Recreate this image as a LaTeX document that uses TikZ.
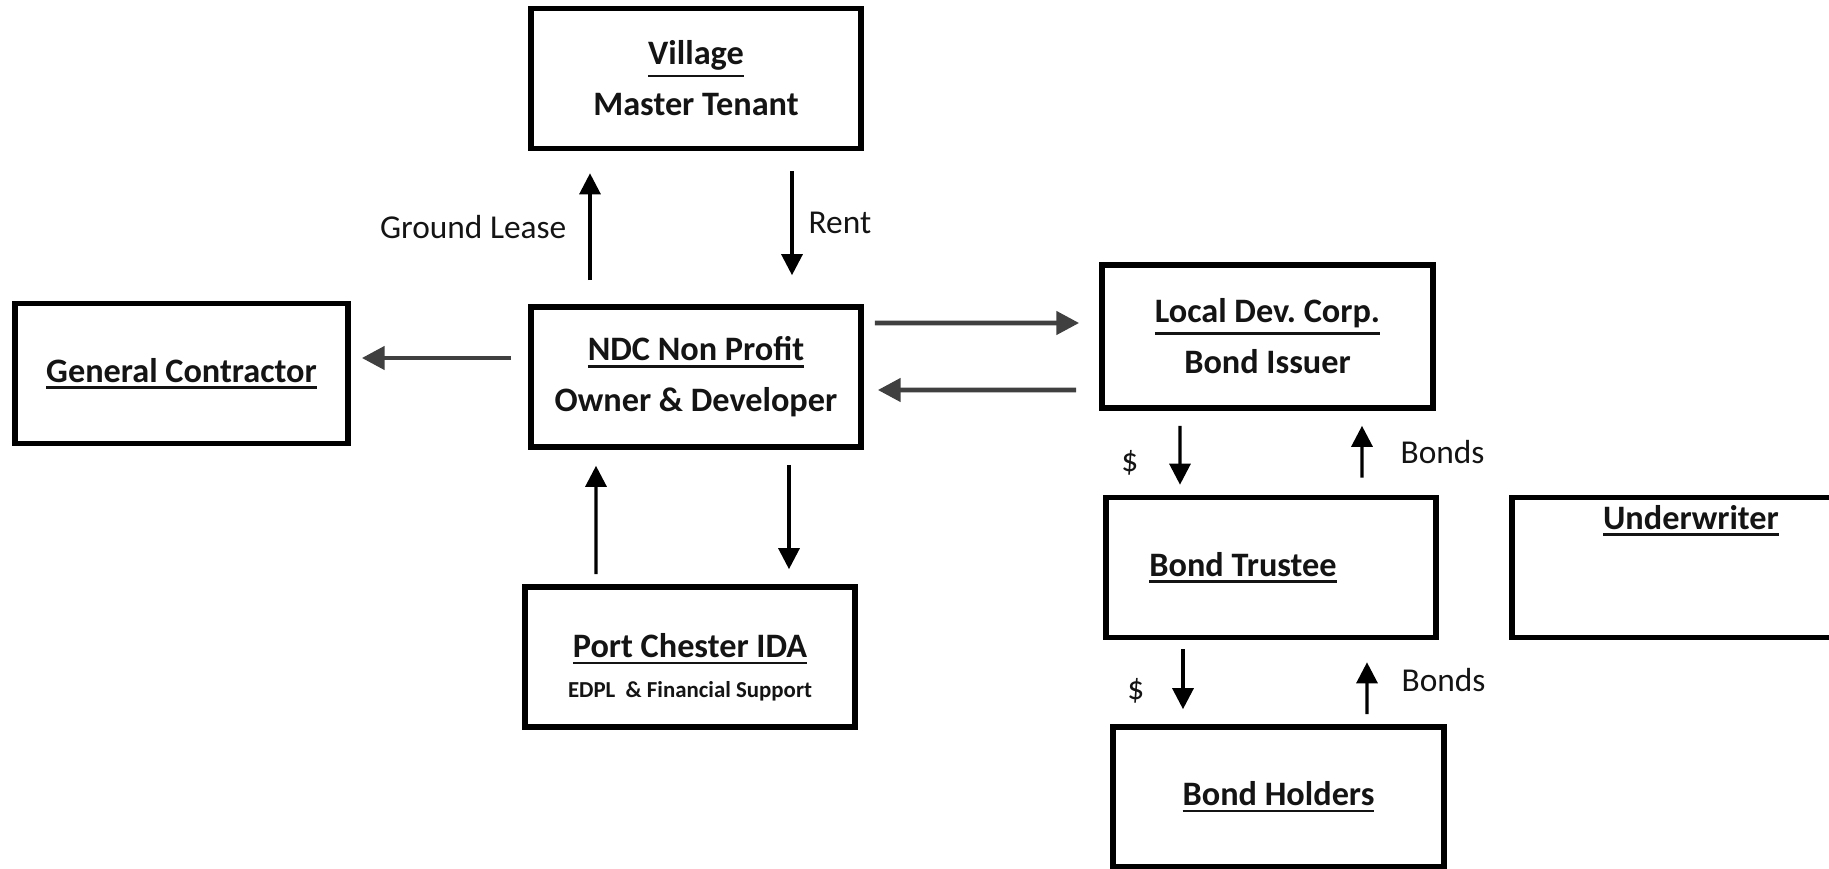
\documentclass[tikz,border=0pt]{standalone}
\usepackage{fontspec}
\setmainfont{Carlito}
\usepackage{xcolor}
\usepackage{tikz}
\usetikzlibrary{arrows.meta, positioning}
\definecolor{arrowgray}{RGB}{64, 64, 64}
\definecolor{darktext}{RGB}{20, 20, 20}
\newcommand{\boxfont}{\fontsize{9.75}{14.5}\selectfont\bfseries}
\newcommand{\notefont}{\fontsize{6.5}{8}\selectfont\bfseries}
\newcommand{\ulabel}[1]{\leavevmode\vtop{\hbox{#1}\kern1.1pt\hrule height 0.8pt}}
\tikzset{
  partybox/.style={rectangle, draw=black, line width=1.6pt, fill=white,
              minimum width=#1, minimum height=1.4cm, inner sep=0pt,
              align=center, font=\boxfont, text=darktext},
  partybox/.default=3.3cm,
  flow/.style={-{Triangle[width=6pt,length=6pt]}, line width=0.9pt, color=black},
  bigflow/.style={-{Triangle[width=6.5pt,length=6.5pt]}, line width=1.4pt, color=arrowgray},
  flowlabel/.style={font=\fontsize{9.5}{11}\selectfont, text=darktext, inner sep=2pt},
}

\begin{document}
\begin{tikzpicture}
  \useasboundingbox (0,0) rectangle (18.29,-8.69);

  \node[partybox] (village) at (6.96,-0.785) {\ulabel{Village}\\Master Tenant};
  \node[partybox=3.33cm] (contractor) at (1.815,-3.735) {\ulabel{General Contractor}};
  \node[partybox] (ndc) at (6.96,-3.77) {\ulabel{NDC Non Profit}\\Owner \& Developer};
  \node[partybox] (ida) at (6.90,-6.57)
        {\rule{0pt}{0.45cm}\ulabel{Port Chester IDA}\\[-3pt]{\notefont EDPL \ \& Financial Support}};
  \node[partybox=3.31cm, minimum height=1.43cm] (issuer) at (12.675,-3.365)
        {\ulabel{Local Dev.\ Corp.}\\Bond Issuer};
  \node[partybox] (trustee) at (12.71,-5.675) {\ulabel{Bond Trustee}\hspace*{0.56cm}};
  \node[partybox=3.4cm] (underwriter) at (16.82,-5.675)
        {\hspace*{0.18cm}\ulabel{Underwriter}\\[0.5cm]~};
  \node[partybox=3.31cm] (holders) at (12.785,-7.97) {\ulabel{Bond Holders}};

  \draw[flow] ([xshift=-1.06cm,yshift=0.24cm]ndc.north) --
        node[flowlabel, left=0.15cm] {Ground Lease} ([xshift=-1.06cm,yshift=-0.22cm]village.south);
  \draw[flow] ([xshift=0.96cm,yshift=-0.20cm]village.south) --
        node[flowlabel, right=0.08cm] {Rent} ([xshift=0.96cm,yshift=0.29cm]ndc.north);
  \draw[bigflow] ([xshift=-0.17cm,yshift=0.19cm]ndc.west) -- ([xshift=0.11cm,yshift=0.155cm]contractor.east);
  \draw[bigflow] ([xshift=0.11cm,yshift=0.54cm]ndc.east) -- ([xshift=-0.20cm,yshift=0.135cm]issuer.west);
  \draw[bigflow] ([xshift=-0.23cm,yshift=-0.535cm]issuer.west) -- ([xshift=0.14cm,yshift=-0.13cm]ndc.east);
  \draw[flow] ([xshift=-0.94cm,yshift=0.10cm]ida.north) -- ([xshift=-1.00cm,yshift=-0.16cm]ndc.south);
  \draw[flow] ([xshift=0.93cm,yshift=-0.15cm]ndc.south) -- ([xshift=0.99cm,yshift=0.15cm]ida.north);

  \draw[flow] ([xshift=-0.875cm,yshift=-0.15cm]issuer.south) --
        node[flowlabel, pos=0.62, left=0.33cm] {\$} ([xshift=-0.91cm,yshift=0.10cm]trustee.north);
  \draw[flow] ([xshift=0.91cm,yshift=0.17cm]trustee.north) --
        node[flowlabel, right=0.3cm] {Bonds} ([xshift=0.945cm,yshift=-0.15cm]issuer.south);
  \draw[flow] ([xshift=-0.88cm,yshift=-0.09cm]trustee.south) --
        node[flowlabel, pos=0.7, left=0.3cm] {\$} ([xshift=-0.955cm,yshift=0.15cm]holders.north);
  \draw[flow] ([xshift=0.885cm,yshift=0.10cm]holders.north) --
        node[flowlabel, pos=0.65, right=0.26cm] {Bonds} ([xshift=0.96cm,yshift=-0.22cm]trustee.south);
\end{tikzpicture}
\end{document}
